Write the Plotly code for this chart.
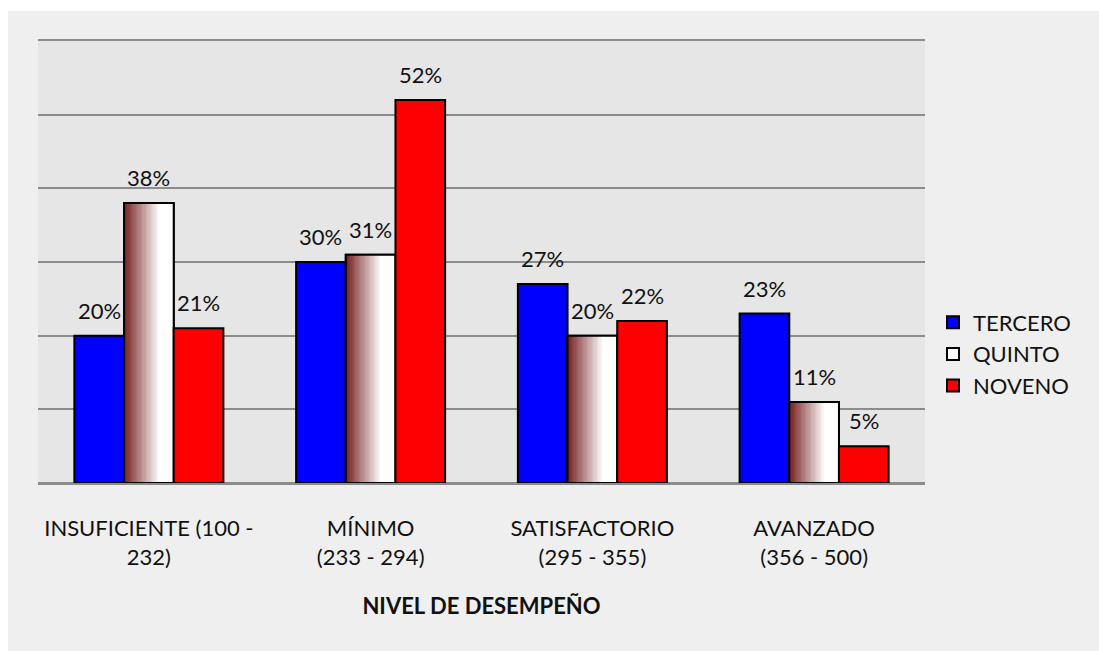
import plotly.graph_objects as go

categories = ["INSUFICIENTE (100 -<br>232)", "MÍNIMO<br>(233 - 294)",
              "SATISFACTORIO<br>(295 - 355)", "AVANZADO<br>(356 - 500)"]
tercero = [20, 30, 27, 23]
quinto = [38, 31, 20, 11]
noveno = [21, 52, 22, 5]
series_names = ["TERCERO", "QUINTO", "NOVENO"]

FONT = "Lato, Carlito, Calibri, sans-serif"
FS = 22
xpos = list(range(len(categories)))
bw = 0.224
fmt = lambda v: f"{v}%"

fig = go.Figure()

# TERCERO
fig.add_trace(go.Bar(x=xpos, y=tercero, name=series_names[0], width=bw, offset=-1.5 * bw,
                     marker=dict(color="#0000ff", line=dict(color="black", width=2))))

# QUINTO base (white, legend entry)
fig.add_trace(go.Bar(x=xpos, y=quinto, name=series_names[1], width=bw, offset=-0.5 * bw,
                     marker=dict(color="#ffffff", line=dict(color="black", width=2))))

# QUINTO gradient slices
N = 40
start = (115, 28, 28)
end = (255, 255, 255)
sw = bw / N
for i in range(N):
    t = min(1.0, (i + 0.5) / N / 0.72)
    c = tuple(int(round(start[k] + (end[k] - start[k]) * t)) for k in range(3))
    fig.add_trace(go.Bar(x=xpos, y=quinto, width=sw * 1.05, offset=-0.5 * bw + i * sw,
                         marker=dict(color=f"rgb{c}", line=dict(width=0)),
                         showlegend=False, hoverinfo="skip"))

# QUINTO outline
fig.add_trace(go.Bar(x=xpos, y=quinto, width=bw, offset=-0.5 * bw, showlegend=False,
                     marker=dict(color="rgba(0,0,0,0)", line=dict(color="black", width=2)),
                     hoverinfo="skip"))

# NOVENO
fig.add_trace(go.Bar(x=xpos, y=noveno, name=series_names[2], width=bw, offset=0.5 * bw,
                     marker=dict(color="#ff0000", line=dict(color="black", width=2))))

# data labels
annotations = []
for vals, k in ((tercero, -1), (quinto, 0), (noveno, 1)):
    for xi, v in zip(xpos, vals):
        annotations.append(dict(x=xi + k * bw, y=v, xref="x", yref="y", text=fmt(v),
                                showarrow=False, yanchor="bottom", yshift=10,
                                font=dict(size=FS, color="#111111", family=FONT)))

fig.update_layout(
    width=1099, height=651,
    barmode="overlay",
    paper_bgcolor="#efefef",
    plot_bgcolor="#e6e6e6",
    margin=dict(l=38, r=174, t=41, b=168),
    font=dict(family=FONT, size=FS, color="#111111"),
    showlegend=True,
    legend=dict(x=(933 - 38) / 887, y=(483 - 354) / 442, xanchor="left", yanchor="middle",
                bgcolor="rgba(0,0,0,0)", font=dict(size=FS), traceorder="normal"),
    xaxis=dict(tickmode="array", tickvals=xpos, ticktext=categories,
               range=[-0.5, len(categories) - 0.5], showgrid=False, zeroline=False,
               showline=True, mirror=True, linecolor="#8c8c8c", linewidth=2,
               ticks="outside", ticklen=25, tickcolor="rgba(0,0,0,0)",
               tickfont=dict(size=FS),
               title=dict(text="<b>NIVEL DE DESEMPEÑO</b>", font=dict(size=FS), standoff=30)),
    yaxis=dict(range=[0, 60], dtick=10, showticklabels=False, showgrid=True,
               gridcolor="#8c8c8c", gridwidth=2, zeroline=True, zerolinecolor="#8c8c8c",
               zerolinewidth=2, showline=False, ticks=""),
    annotations=annotations,
    shapes=[
        dict(type="rect", xref="paper", yref="paper",
             x0=(0 - 38) / 887, x1=(1099 - 38) / 887,
             y0=(483 - 11) / 442, y1=(483 - 0) / 442,
             fillcolor="#ffffff", line=dict(width=0), layer="below"),
        dict(type="rect", xref="paper", yref="paper",
             x0=(0 - 38) / 887, x1=(8 - 38) / 887,
             y0=(483 - 651) / 442, y1=(483 - 0) / 442,
             fillcolor="#ffffff", line=dict(width=0), layer="below"),
    ],
)

fig.write_html("out.html", config={"displayModeBar": False},
               post_script="document.body.style.margin='0';document.body.style.overflow='hidden';")
